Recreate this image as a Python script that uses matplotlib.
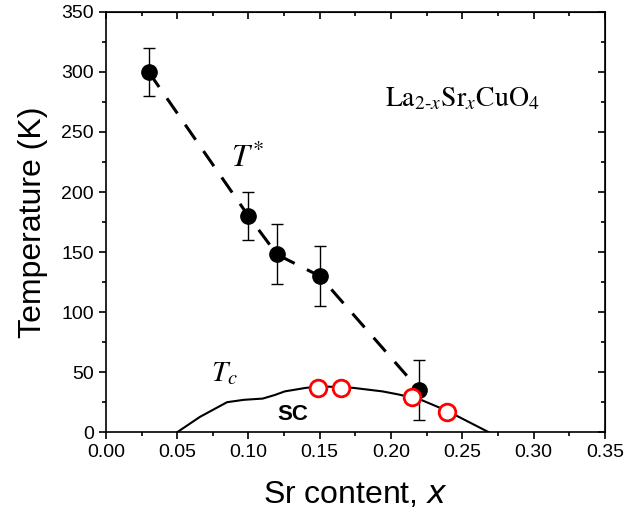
import numpy as np
import matplotlib.pyplot as plt
from matplotlib.ticker import MultipleLocator

# T* (pseudogap) data with error bars
x_star = [0.03, 0.10, 0.12, 0.15, 0.22]
t_star = [300, 180, 148, 130, 35]
t_err = [20, 20, 25, 25, 25]

# Tc dome (solid line)
x_tc = [0.05, 0.066, 0.085, 0.097, 0.110, 0.1185, 0.1255, 0.1407, 0.155, 0.173, 0.194, 0.205, 0.220, 0.239, 0.2686]
t_tc = [0, 12.8, 25, 27, 28, 31, 34, 37, 38, 37, 34, 31.5, 27.5, 18, 0]

# measured Tc points (open red circles)
x_open = [0.149, 0.1646, 0.2149, 0.239]
t_open = [37, 37, 29, 17]

plt.rcParams['font.family'] = ['Liberation Sans', 'DejaVu Sans']

fig = plt.figure(figsize=(6.42, 5.17), dpi=100)
ax = fig.add_axes([0.165, 0.164, 0.777, 0.813])

ax.plot(x_tc, t_tc, 'k-', lw=1.5, zorder=2)
ax.plot(x_star, t_star, 'k--', lw=2.2, dashes=(6, 4.5), zorder=2)
ax.errorbar(x_star, t_star, yerr=t_err, fmt='o', color='k', ms=11,
            ecolor='k', elinewidth=1, capsize=4, capthick=1, zorder=3)
ax.plot(x_open, t_open, 'o', ms=12, mfc='white', mec='red', mew=2, zorder=4)

ax.set_xlim(0, 0.35)
ax.set_ylim(0, 350)
ax.xaxis.set_major_locator(MultipleLocator(0.05))
ax.xaxis.set_minor_locator(MultipleLocator(0.025))
ax.yaxis.set_major_locator(MultipleLocator(50))
ax.yaxis.set_minor_locator(MultipleLocator(25))
ax.xaxis.set_major_formatter(plt.FuncFormatter(lambda v, p: '%.2f' % v))
ax.tick_params(which='both', direction='out', labelsize=14, width=1.2)
ax.tick_params(which='major', length=5)
ax.tick_params(which='minor', length=3)
for s in ax.spines.values():
    s.set_linewidth(1.2)

# mirrored ticks on top and right, pointing inward
top = ax.secondary_xaxis('top')
top.xaxis.set_major_locator(MultipleLocator(0.05))
top.xaxis.set_minor_locator(MultipleLocator(0.025))
top.tick_params(which='both', direction='in', labeltop=False, width=1.2)
top.tick_params(which='major', length=5)
top.tick_params(which='minor', length=3)
right = ax.secondary_yaxis('right')
right.yaxis.set_major_locator(MultipleLocator(50))
right.yaxis.set_minor_locator(MultipleLocator(25))
right.tick_params(which='both', direction='in', labelright=False, width=1.2)
right.tick_params(which='major', length=5)
right.tick_params(which='minor', length=3)

ax.set_xlabel('Sr content, $\\mathit{x}$', fontsize=23, labelpad=14)
ax.set_ylabel('Temperature (K)', fontsize=23, labelpad=10)

ax.text(0.099, 228, r'$T^{*}$', fontsize=23, ha='center', va='center',
        math_fontfamily='stix')
ax.text(0.083, 49, r'$T_{c}$', fontsize=21, ha='center', va='center',
        math_fontfamily='stix')
ax.text(0.25, 277, r'$\mathrm{La}_{2\text{-}\mathit{x}}\mathrm{Sr}_{\mathit{x}}\mathrm{CuO}_{4}$',
        fontsize=20, ha='center', va='center', math_fontfamily='stix')
ax.text(0.131, 15, 'SC', fontsize=16, fontweight='bold', ha='center', va='center')

fig.savefig('out.png', dpi=100)
